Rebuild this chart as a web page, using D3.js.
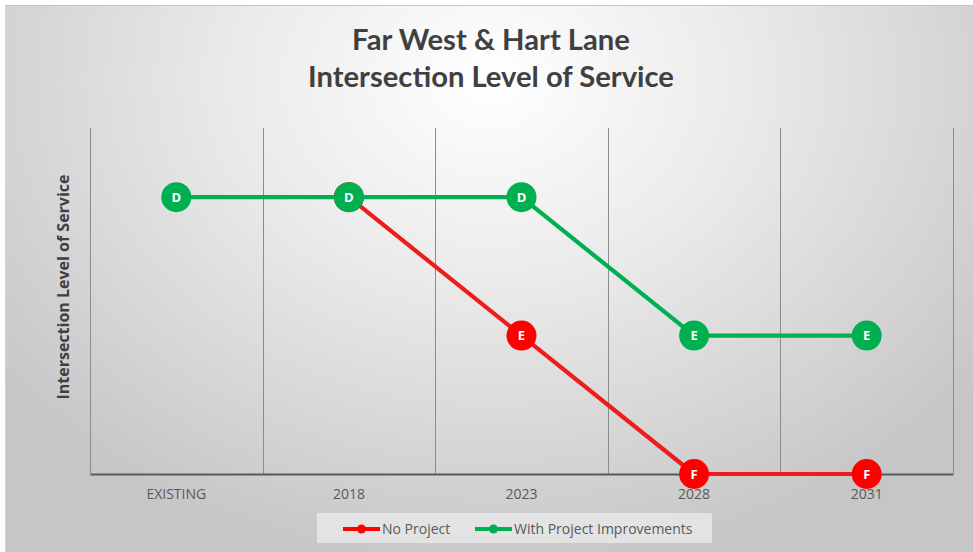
<!DOCTYPE html>
<html><head><meta charset="utf-8">
<script src="https://cdn.jsdelivr.net/npm/d3@7"></script>
<style>html,body{margin:0;padding:0;background:#fff;overflow:hidden}</style>
</head><body>
<svg id="c" width="973" height="552"></svg>
<script>
const categories = ["EXISTING", "2018", "2023", "2028", "2031"];
const levels = ["F", "E", "D"];
const noProject = [null, "D", "E", "F", "F"];
const withProject = ["D", "D", "D", "E", "E"];
const seriesNames = ["No Project", "With Project Improvements"];
const titleLines = ["Far West & Hart Lane", "Intersection Level of Service"];
const yTitle = "Intersection Level of Service";

const svg = d3.select("#c");
const W = 973, H = 552;
const defs = svg.append("defs");
const rg = defs.append("radialGradient").attr("id", "bg")
  .attr("gradientUnits", "userSpaceOnUse")
  .attr("cx", 490).attr("cy", 80).attr("r", 620)
  .attr("gradientTransform", "translate(490,80) scale(1,0.8) translate(-490,-80)");
rg.append("stop").attr("offset", "0").attr("stop-color", "#ffffff");
rg.append("stop").attr("offset", "0.4").attr("stop-color", "#ebebeb");
rg.append("stop").attr("offset", "1").attr("stop-color", "#c6c6c6");

svg.append("rect").attr("x", 5).attr("y", 5).attr("width", W - 5).attr("height", H - 5)
  .attr("fill", "url(#bg)");
svg.append("line").attr("x1", 5).attr("x2", W).attr("y1", 5.5).attr("y2", 5.5)
  .attr("stroke", "#c8c8c8").attr("stroke-width", 1);
svg.append("line").attr("x1", 5.5).attr("x2", 5.5).attr("y1", 5).attr("y2", H)
  .attr("stroke", "#d4d4d4").attr("stroke-width", 1);

const plot = {l: 90, r: 953, t: 128, b: 474};
const x = d3.scaleBand().domain(categories).range([plot.l, plot.r]);
const y = d3.scaleLinear().domain([0, 2.5]).range([plot.b, plot.t]);
const yv = v => y(levels.indexOf(v));

// vertical gridlines at category boundaries
const bounds = categories.map(c => x(c)).concat([plot.r]);
svg.append("g").selectAll("line").data(bounds).join("line")
  .attr("x1", d => Math.round(d) + 0.5).attr("x2", d => Math.round(d) + 0.5)
  .attr("y1", plot.t).attr("y2", plot.b)
  .attr("stroke", "#8c8c8c").attr("stroke-width", 1);

// x axis
const xAxis = d3.axisBottom(x).tickSize(0).tickPadding(15);
const gx = svg.append("g").attr("transform", `translate(0,${plot.b})`).call(xAxis);
gx.select(".domain").attr("stroke", "#595959").attr("stroke-width", 2.2);
gx.selectAll("text").attr("fill", "#595959").attr("font-family", "Open Sans, sans-serif")
  .attr("font-size", 14);

// titles
const tg = svg.append("g");
titleLines.forEach((t, i) => {
  tg.append("text").attr("x", 491).attr("y", 50 + i * 37)
    .attr("text-anchor", "middle").attr("fill", "#404040")
    .attr("font-family", "Lato, sans-serif").attr("font-weight", "bold")
    .attr("font-size", 28).text(t);
});
const targetW = [278, 366];
tg.selectAll("text").each(function(d, i) {
  const w = this.getComputedTextLength();
  d3.select(this).attr("font-size", 28 * targetW[i] / w);
});

svg.append("text").attr("transform", "translate(69,287) rotate(-90)")
  .attr("text-anchor", "middle").attr("fill", "#404040")
  .attr("font-family", "Open Sans, sans-serif").attr("font-weight", "bold")
  .attr("font-size", 16).text(yTitle);

// series: No Project drawn first, With Project on top
const series = [
  {name: seriesNames[0], vals: noProject, line: "#ee1c1c", dot: "#ff0000"},
  {name: seriesNames[1], vals: withProject, line: "#00b050", dot: "#00b050"}
];
const lineGen = d3.line().defined(d => d.v != null).x(d => x(d.c) + x.bandwidth() / 2).y(d => yv(d.v));
series.forEach(s => {
  const pts = categories.map((c, i) => ({c, v: s.vals[i]}));
  svg.append("path").datum(pts).attr("d", lineGen).attr("fill", "none")
    .attr("stroke", s.line).attr("stroke-width", 4.2).attr("stroke-linejoin", "round");
  const g = svg.append("g").selectAll("g").data(pts.filter(d => d.v != null)).join("g")
    .attr("transform", d => `translate(${x(d.c) + x.bandwidth() / 2},${yv(d.v)})`);
  g.append("circle").attr("r", 15).attr("fill", s.dot);
  g.append("text").attr("text-anchor", "middle").attr("dy", "0.36em")
    .attr("fill", "#fff").attr("font-family", "Open Sans, sans-serif")
    .attr("font-weight", "bold").attr("font-size", 13).text(d => d.v);
});

// legend
svg.append("rect").attr("x", 317).attr("y", 513).attr("width", 395).attr("height", 30)
  .attr("fill", "#e3e3e3");
const leg = [
  {name: seriesNames[0], color: "#ff0000", x: 343},
  {name: seriesNames[1], color: "#00b050", x: 475}
];
leg.forEach(l => {
  svg.append("line").attr("x1", l.x).attr("x2", l.x + 37).attr("y1", 529).attr("y2", 529)
    .attr("stroke", l.color).attr("stroke-width", 4);
  svg.append("circle").attr("cx", l.x + 18.5).attr("cy", 529).attr("r", 4.5).attr("fill", l.color);
  svg.append("text").attr("x", l.x + 39).attr("y", 534).attr("fill", "#595959")
    .attr("font-family", "Open Sans, sans-serif").attr("font-size", 14).text(l.name);
});
</script>
</body></html>
